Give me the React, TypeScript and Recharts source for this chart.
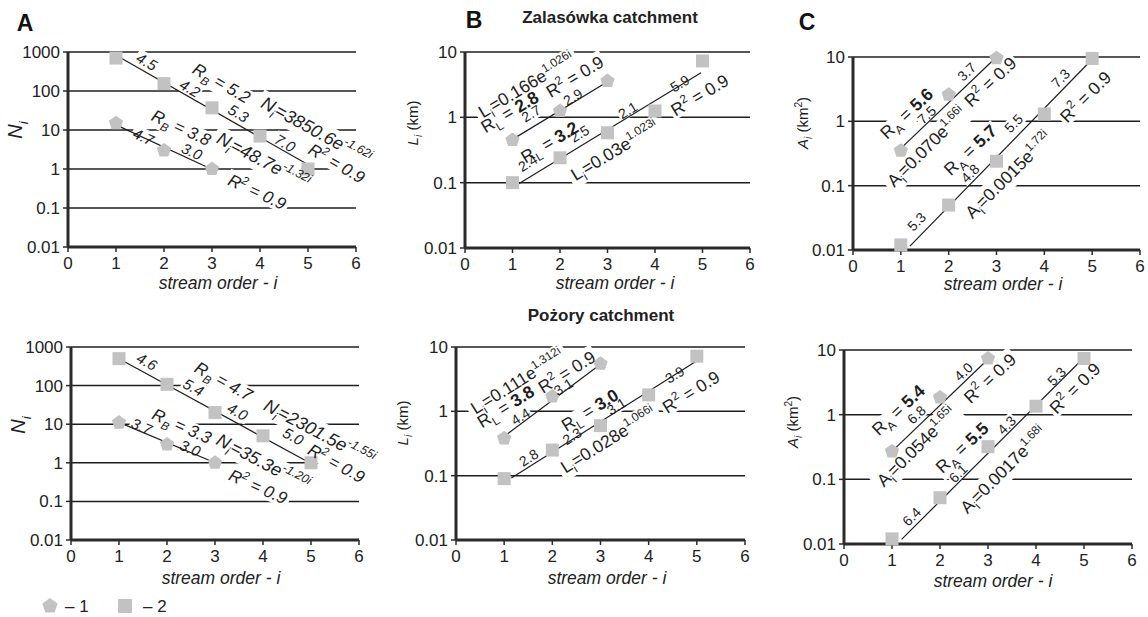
import React from 'react';
import { ScatterChart, Scatter, XAxis, YAxis, CartesianGrid } from 'recharts';

const FONT = '"Liberation Sans", Arial, sans-serif';
const GRAY = '#c2c2c2';
const INK = '#1e1e1e';
const AXIS = '#2a2a2a';

const ORDERS = [1, 2, 3, 4, 5];
const X_TICKS = [0, 1, 2, 3, 4, 5, 6];
const N_TICKS = [0.01, 0.1, 1, 10, 100, 1000];
const LA_TICKS = [0.01, 0.1, 1, 10];

// Zalasówka catchment (top row); 1 = pentagon series, 2 = square series
const ZAL_N1 = [15, 3, 1];
const ZAL_N2 = [700, 155, 37, 7, 1];
const ZAL_L1 = [0.45, 1.25, 3.6];
const ZAL_L2 = [0.1, 0.24, 0.58, 1.25, 7.3];
const ZAL_A1 = [0.35, 2.6, 9.6];
const ZAL_A2 = [0.012, 0.05, 0.24, 1.3, 9.5];

// Pożory catchment (bottom row)
const POZ_N1 = [11, 3, 1];
const POZ_N2 = [500, 108, 20, 5, 1];
const POZ_L1 = [0.38, 1.7, 5.5];
const POZ_L2 = [0.09, 0.25, 0.6, 1.8, 7.2];
const POZ_A1 = [0.27, 1.85, 7.4];
const POZ_A2 = [0.012, 0.052, 0.32, 1.35, 7.4];

// fitted trend lines, start and end points
const ZAL_N_FIT1 = [[1.0, 13.5], [2.95, 1.05]];
const ZAL_N_FIT2 = [[1.02, 800], [4.95, 1.4]];
const ZAL_L_FIT1 = [[1.0, 0.46], [3.0, 3.5]];
const ZAL_L_FIT2 = [[1.08, 0.091], [4.97, 4.8]];
const ZAL_A_FIT1 = [[1.0, 0.38], [3.0, 10]];
const ZAL_A_FIT2 = [[1.19, 0.0115], [4.96, 8.6]];
const POZ_N_FIT1 = [[1.05, 10.5], [3.0, 1.0]];
const POZ_N_FIT2 = [[1.05, 460], [4.97, 1.0]];
const POZ_L_FIT1 = [[1.0, 0.41], [3.0, 5.4]];
const POZ_L_FIT2 = [[1.15, 0.092], [4.97, 5.9]];
const POZ_A_FIT1 = [[1.02, 0.28], [3.0, 7.2]];
const POZ_A_FIT2 = [[1.2, 0.0118], [4.95, 7.0]];

// annotations: x = stream order, y = value, a = angle, s = font size
const ZAL_N_NOTES = [
  { x: 1.64, y: 564, a: 30, t: '4.5', s: 15 },
  { x: 2.54, y: 117, a: 30, t: '4.2', s: 15 },
  { x: 3.55, y: 26.8, a: 30, t: '5.3', s: 15 },
  { x: 4.52, y: 4.57, a: 30, t: '7.0', s: 15 },
  { x: 3.2, y: 160, a: 30, t: 'R_{B} = 5.2', s: 17 },
  { x: 5.17, y: 9.6, a: 29, t: 'N_{i}=3850.6e^{-1.62i}', s: 18 },
  { x: 5.6, y: 1.4, a: 30, t: 'R^{2} = 0.9', s: 17 },
  { x: 1.57, y: 6.7, a: 25, t: '4.7', s: 15 },
  { x: 2.58, y: 2.78, a: 25, t: '3.0', s: 15 },
  { x: 2.36, y: 11.5, a: 25, t: 'R_{B} = 3.8', s: 17 },
  { x: 4.07, y: 1.65, a: 28, t: 'N_{i}=48.7e^{-1.32i}', s: 18 },
  { x: 3.94, y: 0.26, a: 25, t: 'R^{2} = 0.9', s: 17 },
];
const POZ_N_NOTES = [
  { x: 1.58, y: 417, a: 29, t: '4.6', s: 15 },
  { x: 2.55, y: 90, a: 29, t: '5.4', s: 15 },
  { x: 3.47, y: 21, a: 29, t: '4.0', s: 15 },
  { x: 4.63, y: 4.8, a: 29, t: '5.0', s: 15 },
  { x: 3.18, y: 130, a: 29, t: 'R_{B} = 4.7', s: 17 },
  { x: 5.17, y: 6.2, a: 28, t: 'N_{i}=2301.5e^{-1.55i}', s: 18 },
  { x: 5.53, y: 0.97, a: 29, t: 'R^{2} = 0.9', s: 17 },
  { x: 1.47, y: 8.7, a: 23, t: '3.7', s: 15 },
  { x: 2.48, y: 2.4, a: 23, t: '3.0', s: 15 },
  { x: 2.31, y: 9.0, a: 24, t: 'R_{B} = 3.3', s: 17 },
  { x: 4.0, y: 1.04, a: 28, t: 'N_{i}=35.3e^{-1.20i}', s: 18 },
  { x: 3.9, y: 0.24, a: 24, t: 'R^{2} = 0.9', s: 17 },
];
const ZAL_L_NOTES = [
  { x: 1.29, y: 3.1, a: -31, t: 'L_{i}=0.166e^{1.026i}', s: 17.5 },
  { x: 0.94, y: 1.21, a: -31, t: 'R_{L} = **2.8**', s: 17.5 },
  { x: 2.31, y: 4.2, a: -31, t: 'R^{2} = 0.9', s: 17.5 },
  { x: 1.39, y: 1.14, a: -31, t: '2.7', s: 14 },
  { x: 2.27, y: 2.05, a: -31, t: '2.9', s: 14 },
  { x: 1.78, y: 0.417, a: -31, t: 'R_{L} = **3.2**', s: 17.5 },
  { x: 1.32, y: 0.2, a: -31, t: '2.4', s: 14 },
  { x: 2.41, y: 0.56, a: -31, t: '2.5', s: 14 },
  { x: 3.43, y: 1.28, a: -31, t: '2.1', s: 14 },
  { x: 4.52, y: 3.3, a: -31, t: '5.9', s: 14 },
  { x: 3.15, y: 0.31, a: -31, t: 'L_{i}=0.03e^{1.023i}', s: 17.5 },
  { x: 4.94, y: 2.19, a: -31, t: 'R^{2} = 0.9', s: 17.5 },
];
const POZ_L_NOTES = [
  { x: 1.27, y: 2.9, a: -32, t: 'L_{i}=0.111e^{1.312i}', s: 17.5 },
  { x: 1.03, y: 1.19, a: -32, t: 'R_{L} = **3.8**', s: 17.5 },
  { x: 2.3, y: 4.1, a: -32, t: 'R^{2} = 0.9', s: 17.5 },
  { x: 1.34, y: 0.83, a: -32, t: '4.4', s: 14 },
  { x: 2.23, y: 2.4, a: -32, t: '3.1', s: 14 },
  { x: 2.78, y: 1.05, a: -32, t: 'R_{L} = **3.0**', s: 17.5 },
  { x: 1.51, y: 0.19, a: -32, t: '2.8', s: 14 },
  { x: 2.41, y: 0.41, a: -32, t: '2.3', s: 14 },
  { x: 3.33, y: 1.19, a: -32, t: '3.1', s: 14 },
  { x: 4.54, y: 3.7, a: -32, t: '3.9', s: 14 },
  { x: 3.16, y: 0.36, a: -32, t: 'L_{i}=0.028e^{1.066i}', s: 17.5 },
  { x: 4.88, y: 2.0, a: -32, t: 'R^{2} = 0.9', s: 17.5 },
];
const ZAL_A_NOTES = [
  { x: 1.12, y: 1.33, a: -43, t: 'R_{A} = **5.6**', s: 17.5 },
  { x: 1.54, y: 1.25, a: -43, t: '7.5', s: 14 },
  { x: 2.38, y: 5.9, a: -43, t: '3.7', s: 14 },
  { x: 1.54, y: 0.4, a: -45, t: 'A_{i}=0.070e^{1.66i}', s: 17.5 },
  { x: 2.87, y: 4.1, a: -43, t: 'R^{2} = 0.9', s: 17.5 },
  { x: 2.45, y: 0.36, a: -43, t: 'R_{A} = **5.7**', s: 17.5 },
  { x: 2.45, y: 0.155, a: -45, t: '4.8', s: 14 },
  { x: 1.33, y: 0.0275, a: -45, t: '5.3', s: 14 },
  { x: 3.36, y: 0.93, a: -45, t: '5.5', s: 14 },
  { x: 4.34, y: 4.67, a: -45, t: '7.3', s: 14 },
  { x: 3.25, y: 0.146, a: -45, t: 'A_{i}=0.0015e^{1.72i}', s: 17.5 },
  { x: 4.86, y: 2.4, a: -45, t: 'R^{2} = 0.9', s: 17.5 },
];
const POZ_A_NOTES = [
  { x: 1.13, y: 1.18, a: -43, t: 'R_{A} = **5.4**', s: 17.5 },
  { x: 1.51, y: 1.0, a: -43, t: '6.8', s: 14 },
  { x: 2.49, y: 4.6, a: -43, t: '4.0', s: 14 },
  { x: 1.51, y: 0.32, a: -45, t: 'A_{i}=0.054e^{1.65i}', s: 17.5 },
  { x: 3.04, y: 3.65, a: -43, t: 'R^{2} = 0.9', s: 17.5 },
  { x: 2.46, y: 0.31, a: -43, t: 'R_{A} = **5.5**', s: 17.5 },
  { x: 2.38, y: 0.124, a: -45, t: '6.1', s: 14 },
  { x: 1.41, y: 0.0265, a: -45, t: '6.4', s: 14 },
  { x: 3.39, y: 0.69, a: -45, t: '4.3', s: 14 },
  { x: 4.43, y: 3.9, a: -45, t: '5.3', s: 14 },
  { x: 3.32, y: 0.14, a: -45, t: 'A_{i}=0.0017e^{1.68i}', s: 17.5 },
  { x: 4.81, y: 2.56, a: -45, t: 'R^{2} = 0.9', s: 17.5 },
];

const toPoints = (vals: number[]) => vals.map((y, k) => ({ x: ORDERS[k], y }));
const toFit = (pts: number[][]) => pts.map(([x, y]) => ({ x, y }));

// tiny markup: _{sub}  ^{sup}  **bold**  ~italic~
function parseRich(src: string) {
  const segs: any[] = [];
  let buf = '';
  let bold = false;
  let ital = false;
  const flush = () => {
    if (buf) segs.push({ text: buf, kind: 'n', bold, ital });
    buf = '';
  };
  let i = 0;
  while (i < src.length) {
    if (src.startsWith('**', i)) {
      flush();
      bold = !bold;
      i += 2;
    } else if (src[i] === '~') {
      flush();
      ital = !ital;
      i += 1;
    } else if ((src[i] === '_' || src[i] === '^') && src[i + 1] === '{') {
      flush();
      const end = src.indexOf('}', i);
      segs.push({ text: src.slice(i + 2, end), kind: src[i] === '_' ? 'sub' : 'sup', bold, ital });
      i = end + 1;
    } else {
      buf += src[i];
      i += 1;
    }
  }
  flush();
  return segs;
}

function RichText({ src, size, italic = false, anchor = 'middle', ...rest }: any) {
  const segs = parseRich(src);
  let cur = 0;
  return (
    <text
      x={0}
      y={size * 0.35}
      textAnchor={anchor}
      fontSize={size}
      fontFamily={FONT}
      fill={INK}
      {...rest}
    >
      {segs.map((g, k) => {
        const target = g.kind === 'sub' ? size * 0.28 : g.kind === 'sup' ? -size * 0.42 : 0;
        const dy = target - cur;
        cur = target;
        return (
          <tspan
            key={k}
            dy={dy === 0 ? undefined : dy}
            fontSize={g.kind === 'n' ? size : size * 0.68}
            fontWeight={g.bold ? 'bold' : 'normal'}
            fontStyle={italic || g.ital ? 'italic' : 'normal'}
          >
            {g.text}
          </tspan>
        );
      })}
    </text>
  );
}

function Pentagon({ cx, cy, r = 7.5 }: any) {
  const pts = [0, 1, 2, 3, 4]
    .map((k) => {
      const a = -Math.PI / 2 + (k * 2 * Math.PI) / 5;
      return `${cx + r * Math.cos(a)},${cy + r * Math.sin(a)}`;
    })
    .join(' ');
  return <polygon points={pts} fill={GRAY} />;
}

function Square({ cx, cy, s = 13 }: any) {
  return <rect x={cx - s / 2} y={cy - s / 2} width={s} height={s} fill={GRAY} />;
}

const Blank = () => <g />;

const makeNote = (italic: boolean, bg: boolean) => (p: any) => {
  const d = p.payload;
  return (
    <g transform={`translate(${p.cx},${p.cy}) rotate(${d.a})`}>
      {bg ? (
        <RichText src={d.t} size={d.s} italic={italic} fill="#fff" filter="url(#noteBg)" />
      ) : (
        <RichText src={d.t} size={d.s} italic={italic} />
      )}
    </g>
  );
};

const PANELS = [
  { key: 'zn', x0: 68, x6: 356, yTop: 52, yBot: 247, ticks: N_TICKS, s1: ZAL_N1, s2: ZAL_N2, f1: ZAL_N_FIT1, f2: ZAL_N_FIT2, notes: ZAL_N_NOTES, italic: true },
  { key: 'zl', x0: 465, x6: 750, yTop: 52, yBot: 248, ticks: LA_TICKS, s1: ZAL_L1, s2: ZAL_L2, f1: ZAL_L_FIT1, f2: ZAL_L_FIT2, notes: ZAL_L_NOTES, italic: false },
  { key: 'za', x0: 853, x6: 1140, yTop: 57, yBot: 250, ticks: LA_TICKS, s1: ZAL_A1, s2: ZAL_A2, f1: ZAL_A_FIT1, f2: ZAL_A_FIT2, notes: ZAL_A_NOTES, italic: false },
  { key: 'pn', x0: 71, x6: 359, yTop: 347, yBot: 540, ticks: N_TICKS, s1: POZ_N1, s2: POZ_N2, f1: POZ_N_FIT1, f2: POZ_N_FIT2, notes: POZ_N_NOTES, italic: true },
  { key: 'pl', x0: 456, x6: 745, yTop: 347, yBot: 540, ticks: LA_TICKS, s1: POZ_L1, s2: POZ_L2, f1: POZ_L_FIT1, f2: POZ_L_FIT2, notes: POZ_L_NOTES, italic: false },
  { key: 'pa', x0: 844, x6: 1132, yTop: 350, yBot: 544, ticks: LA_TICKS, s1: POZ_A1, s2: POZ_A2, f1: POZ_A_FIT1, f2: POZ_A_FIT2, notes: POZ_A_NOTES, italic: false },
];

function Panel({ cfg }: any) {
  const yW = 66;
  const xH = 36;
  const right = 34;
  const boxLeft = cfg.x0 - yW;
  const boxTop = cfg.yTop - 16;
  const width = cfg.x6 - boxLeft + right;
  const height = cfg.yBot - boxTop + xH;
  const tickStyle = { fontSize: 17, fill: '#222', fontFamily: FONT };
  return (
    <div style={{ position: 'absolute', left: boxLeft, top: boxTop }}>
      <ScatterChart
        width={width}
        height={height}
        margin={{ top: cfg.yTop - boxTop, right, bottom: 0, left: 0 }}
      >
        <CartesianGrid horizontal vertical={false} stroke={INK} strokeWidth={1.5} />
        <XAxis
          type="number"
          dataKey="x"
          domain={[0, 6]}
          ticks={X_TICKS}
          interval={0}
          height={xH}
          tick={tickStyle}
          tickSize={5}
          tickMargin={5}
          axisLine={{ stroke: AXIS, strokeWidth: 3 }}
          tickLine={{ stroke: AXIS, strokeWidth: 1.5 }}
        />
        <YAxis
          type="number"
          dataKey="y"
          scale="log"
          domain={[0.01, cfg.ticks[cfg.ticks.length - 1]]}
          ticks={cfg.ticks}
          interval={0}
          width={yW}
          tick={tickStyle}
          tickSize={5}
          tickMargin={3}
          axisLine={{ stroke: AXIS, strokeWidth: 3 }}
          tickLine={{ stroke: AXIS, strokeWidth: 1.5 }}
        />
        <Scatter data={cfg.notes} shape={makeNote(cfg.italic, true)} isAnimationActive={false} />
        <Scatter data={toFit(cfg.f1)} line={{ stroke: INK, strokeWidth: 1.2 }} lineType="joint" shape={Blank} isAnimationActive={false} />
        <Scatter data={toFit(cfg.f2)} line={{ stroke: INK, strokeWidth: 1.2 }} lineType="joint" shape={Blank} isAnimationActive={false} />
        <Scatter data={toPoints(cfg.s1)} shape={(p: any) => <Pentagon cx={p.cx} cy={p.cy} />} isAnimationActive={false} />
        <Scatter data={toPoints(cfg.s2)} shape={(p: any) => <Square cx={p.cx} cy={p.cy} />} isAnimationActive={false} />
        <Scatter data={cfg.notes} shape={makeNote(cfg.italic, false)} isAnimationActive={false} />
      </ScatterChart>
    </div>
  );
}

function Overlay() {
  const xTitles = [
    [218, 283], [615, 283], [1003, 284],
    [221, 578], [607, 578], [993, 581],
  ];
  const yTitles = [
    { x: 15, y: 130, t: '~N_{i}~', s: 20 },
    { x: 18, y: 425, t: '~N_{i}~', s: 20 },
    { x: 413, y: 123, t: '~L_{i}~ (km)', s: 15 },
    { x: 403, y: 423, t: '~L_{i}~ (km)', s: 15 },
    { x: 803, y: 123, t: '~A_{i}~ (km^{2})', s: 15 },
    { x: 793, y: 422, t: '~A_{i}~ (km^{2})', s: 15 },
  ];
  return (
    <svg width={1148} height={617} style={{ position: 'absolute', left: 0, top: 0, pointerEvents: 'none' }}>
      <defs>
        <filter id="noteBg" x="-0.03" y="0.08" width="1.06" height="0.86">
          <feFlood floodColor="#ffffff" />
        </filter>
      </defs>
      {[['A', 25, 23], ['B', 474, 20], ['C', 807, 22]].map(([l, x, y]) => (
        <text key={l as string} x={x} y={(y as number) + 8} textAnchor="middle" fontSize={23} fontWeight="bold" fontFamily={FONT} fill="#111">
          {l}
        </text>
      ))}
      <text x={610} y={23} textAnchor="middle" fontSize={17} fontWeight="bold" fontFamily={FONT} fill="#222">
        Zalasówka catchment
      </text>
      <text x={601} y={321} textAnchor="middle" fontSize={17} fontWeight="bold" fontFamily={FONT} fill="#222">
        Pożory catchment
      </text>
      {xTitles.map(([x, y], k) => (
        <text key={k} x={x} y={y + 6} textAnchor="middle" fontSize={17.5} fontStyle="italic" fontFamily={FONT} fill="#222">
          stream order - i
        </text>
      ))}
      {yTitles.map((d, k) => (
        <g key={k} transform={`translate(${d.x},${d.y}) rotate(-90)`}>
          <RichText src={d.t} size={d.s} />
        </g>
      ))}
      <Pentagon cx={50} cy={606} r={8} />
      <text x={65} y={612} fontSize={17} fontFamily={FONT} fill="#222">– 1</text>
      <Square cx={125} cy={606} s={14} />
      <text x={143} y={612} fontSize={17} fontFamily={FONT} fill="#222">– 2</text>
    </svg>
  );
}

export default function App() {
  return (
    <div style={{ position: 'absolute', left: 0, top: 0, width: 1148, height: 617, overflow: 'hidden', background: '#fff' }}>
      <Overlay />
      {PANELS.map((cfg) => (
        <Panel key={cfg.key} cfg={cfg} />
      ))}
    </div>
  );
}
